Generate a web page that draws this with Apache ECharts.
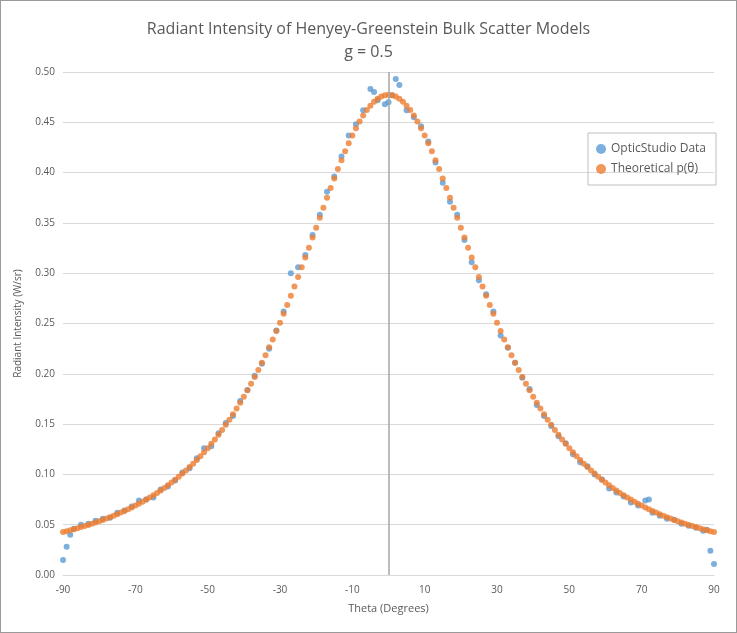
<!DOCTYPE html>
<html><head><meta charset="utf-8">
<script src="https://cdn.jsdelivr.net/npm/echarts@6/dist/echarts.min.js"></script>
<style>html,body{margin:0;padding:0;background:#fff}#c{width:735px;height:631px;border:1px solid #9a9a9a}</style>
</head><body><div id="c"></div>
<script>
const xTicks = [-90,-70,-50,-30,-10,10,30,50,70,90];
const theoX = [-90,-89,-88,-87,-86,-85,-84,-83,-82,-81,-80,-79,-78,-77,-76,-75,-74,-73,-72,-71,-70,-69,-68,-67,-66,-65,-64,-63,-62,-61,-60,-59,-58,-57,-56,-55,-54,-53,-52,-51,-50,-49,-48,-47,-46,-45,-44,-43,-42,-41,-40,-39,-38,-37,-36,-35,-34,-33,-32,-31,-30,-29,-28,-27,-26,-25,-24,-23,-22,-21,-20,-19,-18,-17,-16,-15,-14,-13,-12,-11,-10,-9,-8,-7,-6,-5,-4,-3,-2,-1,0,1,2,3,4,5,6,7,8,9,10,11,12,13,14,15,16,17,18,19,20,21,22,23,24,25,26,27,28,29,30,31,32,33,34,35,36,37,38,39,40,41,42,43,44,45,46,47,48,49,50,51,52,53,54,55,56,57,58,59,60,61,62,63,64,65,66,67,68,69,70,71,72,73,74,75,76,77,78,79,80,81,82,83,84,85,86,87,88,89,90];
const theoY = [0.0427,0.0436,0.0446,0.0455,0.0465,0.0476,0.0487,0.0498,0.0510,0.0522,0.0534,0.0547,0.0561,0.0575,0.0590,0.0605,0.0621,0.0637,0.0654,0.0672,0.0690,0.0709,0.0729,0.0750,0.0771,0.0793,0.0816,0.0840,0.0865,0.0892,0.0919,0.0948,0.0977,0.1008,0.1039,0.1073,0.1107,0.1144,0.1181,0.1221,0.1261,0.1304,0.1348,0.1395,0.1442,0.1493,0.1544,0.1599,0.1654,0.1713,0.1773,0.1837,0.1901,0.1969,0.2038,0.2111,0.2185,0.2263,0.2342,0.2425,0.2508,0.2596,0.2684,0.2775,0.2867,0.2962,0.3058,0.3156,0.3254,0.3354,0.3453,0.3552,0.3651,0.3749,0.3847,0.3942,0.4035,0.4124,0.4211,0.4292,0.4370,0.4441,0.4509,0.4567,0.4622,0.4665,0.4705,0.4733,0.4757,0.4770,0.4775,0.4770,0.4757,0.4733,0.4705,0.4665,0.4622,0.4567,0.4509,0.4441,0.4370,0.4292,0.4211,0.4124,0.4035,0.3942,0.3847,0.3749,0.3651,0.3552,0.3453,0.3354,0.3254,0.3156,0.3058,0.2962,0.2867,0.2775,0.2684,0.2596,0.2508,0.2425,0.2342,0.2263,0.2185,0.2111,0.2038,0.1969,0.1901,0.1837,0.1773,0.1713,0.1654,0.1599,0.1544,0.1493,0.1442,0.1395,0.1348,0.1304,0.1261,0.1221,0.1181,0.1144,0.1107,0.1073,0.1039,0.1008,0.0977,0.0948,0.0919,0.0892,0.0865,0.0840,0.0816,0.0793,0.0771,0.0750,0.0729,0.0709,0.0690,0.0672,0.0654,0.0637,0.0621,0.0605,0.0590,0.0575,0.0561,0.0547,0.0534,0.0522,0.0510,0.0498,0.0487,0.0476,0.0465,0.0455,0.0446,0.0436,0.0427];
const dataX = [-90,-89,-88,-87,-85,-83,-81,-79,-77,-75,-73,-71,-69,-67,-65,-63,-61,-59,-57,-55,-53,-51,-49,-47,-45,-43,-41,-39,-37,-35,-33,-31,-29,-27,-25,-23,-21,-19,-17,-15,-13,-11,-9,-7,-5,-4,-3,-1,0,1,2,3,5,7,9,11,13,15,17,19,21,23,25,27,29,31,33,35,37,39,41,43,45,47,49,51,53,55,57,59,61,63,65,67,69,71,72,73,75,77,79,81,83,85,87,88,89,90];
const dataY = [0.015,0.028,0.040,0.046,0.050,0.051,0.054,0.056,0.057,0.062,0.064,0.068,0.074,0.075,0.077,0.085,0.088,0.094,0.102,0.106,0.116,0.126,0.128,0.141,0.151,0.158,0.173,0.184,0.198,0.210,0.225,0.243,0.262,0.300,0.306,0.318,0.338,0.358,0.381,0.396,0.416,0.437,0.448,0.462,0.483,0.480,0.472,0.468,0.470,0.477,0.493,0.487,0.462,0.455,0.446,0.431,0.410,0.390,0.371,0.358,0.333,0.311,0.293,0.279,0.262,0.238,0.226,0.211,0.196,0.185,0.169,0.158,0.148,0.138,0.131,0.120,0.112,0.108,0.100,0.095,0.086,0.082,0.078,0.072,0.069,0.074,0.075,0.062,0.059,0.056,0.055,0.051,0.049,0.047,0.044,0.045,0.024,0.011];
const c = echarts.init(document.getElementById('c'));
const txt = '#595959';
c.setOption({
  animation:false,
  title:{text:'Radiant Intensity of Henyey-Greenstein Bulk Scatter Models\ng = 0.5',left:'center',top:12,
    textStyle:{fontFamily:'Open Sans',fontSize:16,fontWeight:'normal',color:txt,lineHeight:23}},
  legend:{orient:'vertical',right:20,top:132,itemGap:8,borderColor:'#bfbfbf',borderWidth:1,padding:[10,10,10,8],
    itemWidth:10,itemHeight:10,textStyle:{fontFamily:'Open Sans',fontSize:12,color:txt},
    data:[{name:'OpticStudio Data',icon:'circle'},{name:'Theoretical p(θ)',icon:'circle'}]},
  grid:{left:62,right:22,top:71,bottom:57},
  xAxis:{type:'value',min:-90,max:90,name:'Theta (Degrees)',nameLocation:'middle',nameGap:28,
    nameTextStyle:{fontFamily:'Open Sans',fontSize:11,color:txt},
    axisLine:{show:true,onZero:false,lineStyle:{color:'#d9d9d9'}},axisTick:{show:false},splitLine:{show:false},
    axisLabel:{customValues:xTicks,fontFamily:'Open Sans',fontSize:10,color:txt,margin:10}},
  yAxis:{type:'value',min:0,max:0.5,interval:0.05,name:'Radiant Intensity (W/sr)',nameLocation:'middle',nameGap:40,
    nameTextStyle:{fontFamily:'Open Sans',fontSize:10,color:txt},
    axisLine:{show:false},axisTick:{show:false},splitLine:{lineStyle:{color:'#d9d9d9'}},
    axisLabel:{formatter:v=>v.toFixed(2),fontFamily:'Open Sans',fontSize:10,color:txt}},
  series:[
    {name:'OpticStudio Data',type:'scatter',symbolSize:6,itemStyle:{color:'#5b9bd5'},z:2,
      data:dataX.map((x,i)=>[x,dataY[i]]),
      markLine:{silent:true,symbol:'none',label:{show:false},lineStyle:{color:'#a6a6a6',type:'solid',width:1.5},data:[{xAxis:0}]}},
    {name:'Theoretical p(θ)',type:'scatter',symbolSize:6,itemStyle:{color:'#ed7d31'},z:3,
      data:theoX.map((x,i)=>[x,theoY[i]])}
  ]
});
</script></body></html>
